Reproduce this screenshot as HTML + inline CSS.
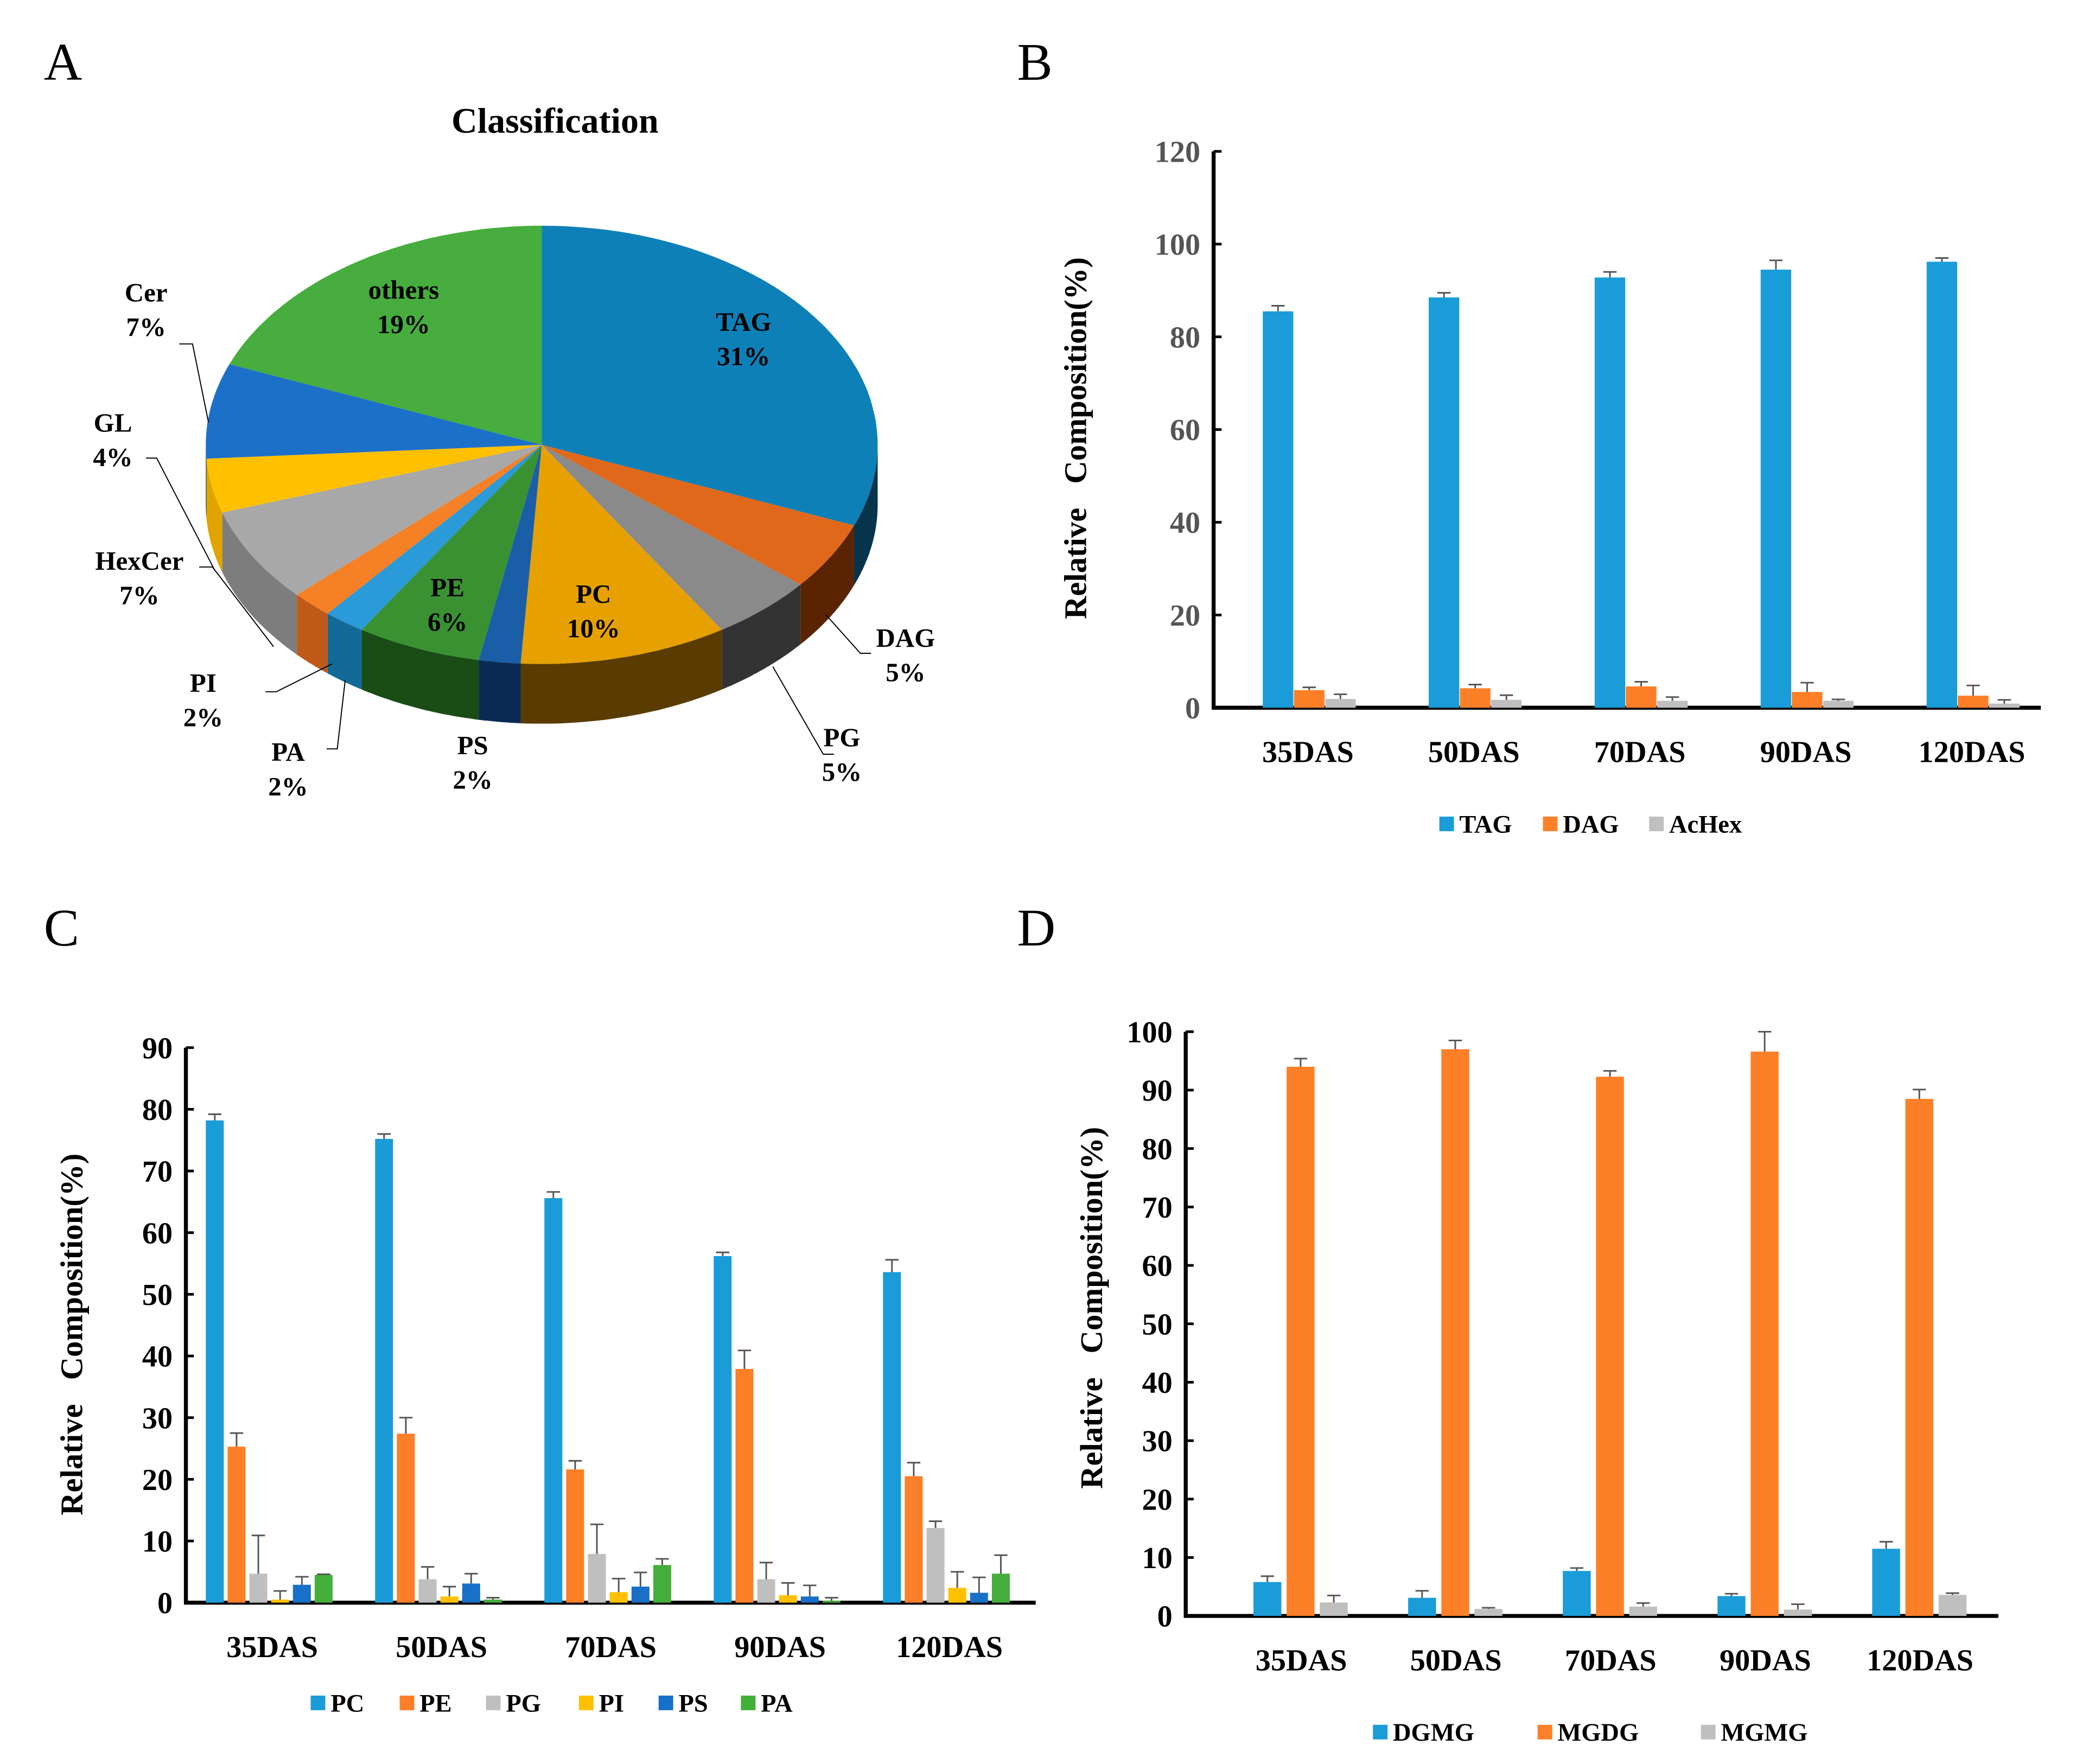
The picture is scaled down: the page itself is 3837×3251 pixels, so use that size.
<!DOCTYPE html>
<html><head><meta charset="utf-8"><style>
html,body{margin:0;padding:0;background:#fff}
svg{display:block;font-family:"Liberation Serif",serif;font-weight:bold}
text{white-space:pre}
</style></head><body>
<svg id="fig" width="3837" height="3251" viewBox="0 0 1568 1328.5" xmlns="http://www.w3.org/2000/svg">
<rect width="1568" height="1329" fill="#fff"/>
<g font-weight="normal" font-size="40" fill="#000">
<text x="33" y="60">A</text>
<text x="766" y="60">B</text>
<text x="33" y="712">C</text>
<text x="766" y="712">D</text>
</g>
<text x="418" y="100" font-size="27" text-anchor="middle">Classification</text>
<g id="pie"></g>
<g id="chartB"></g>
<g id="chartC"></g>
<g id="chartD"></g>
</svg>
<script>
const NS="http://www.w3.org/2000/svg";
const pieLabels=["TAG","DAG","PG","PC","PS","PE","PA","PI","HexCer","GL","Cer","others"];
const pieValues=[31,5,5,10,2,6,2,2,7,4,7,19];
const pieColors=["#0e80b8","#e0681a","#8a8a8a","#e6a100","#1a5ea8","#3a9132","#2a9ad8","#f58025","#a8a8a8","#ffc000","#1c70c8","#46ad3e"];
const pieSide=["#06344d","#5a2400","#333333","#5a3c00","#0a2a55","#1a4d16","#146a96","#c05a18","#7d7d7d","#e0a300","#0f3f78","#2a6e25"];

const catsB=["35DAS","50DAS","70DAS","90DAS","120DAS"];
const tagVals=[85.5,88.5,92.8,94.5,96.2];
const tagErr=[1.2,1.0,1.2,2.0,0.8];
const dagVals=[3.8,4.2,4.6,3.4,2.6];
const dagErr=[0.6,0.8,1.0,2.0,2.2];
const achexVals=[1.9,1.7,1.5,1.5,0.9];
const achexErr=[1.0,1.0,0.8,0.3,0.8];
const ticksB=[0,20,40,60,80,100,120];

const catsC=["35DAS","50DAS","70DAS","90DAS","120DAS"];
const pcVals=[78.2,75.2,65.6,56.2,53.6];
const pcErr=[1.0,0.8,1.0,0.6,2.0];
const peVals=[25.3,27.4,21.6,37.9,20.5];
const peErr=[2.2,2.6,1.4,3.0,2.2];
const pgVals=[4.7,3.8,7.9,3.8,12.1];
const pgErr=[6.2,2.0,4.8,2.7,1.1];
const piVals=[0.5,1.0,1.7,1.2,2.4];
const piErr=[1.4,1.6,2.2,2.0,2.6];
const psVals=[2.9,3.1,2.6,1.0,1.6];
const psErr=[1.3,1.6,2.3,1.8,2.5];
const paVals=[4.5,0.5,6.1,0.3,4.7];
const paErr=[0.1,0.3,1.0,0.5,3.0];
const ticksC=[0,10,20,30,40,50,60,70,80,90];

const catsD=["35DAS","50DAS","70DAS","90DAS","120DAS"];
const dgmgVals=[5.8,3.1,7.7,3.4,11.5];
const dgmgErr=[1.0,1.2,0.5,0.4,1.2];
const mgdgVals=[94.0,97.0,92.3,96.6,88.5];
const mgdgErr=[1.4,1.5,1.0,3.4,1.6];
const mgmgVals=[2.3,1.2,1.6,1.1,3.6];
const mgmgErr=[1.2,0.2,0.6,0.9,0.3];
const ticksD=[0,10,20,30,40,50,60,70,80,90,100];

function mk(parent,tag,attrs,txt){const e=document.createElementNS(NS,tag);for(const k in attrs)e.setAttribute(k,attrs[k]);if(txt!==undefined)e.textContent=txt;parent.appendChild(e);return e;}

// ---- Pie ----
(function(){
 const g=document.getElementById('pie');
 const cx=408,cy=335,rx=253,ry=165,d=45;
 const P=(a,off)=>[cx+rx*Math.sin(a),cy-ry*Math.cos(a)+(off||0)];
 const total=pieValues.reduce((a,b)=>a+b,0);
 let angs=[0];pieValues.forEach(v=>angs.push(angs[angs.length-1]+v/total*2*Math.PI));
 for(let i=0;i<pieValues.length;i++){
  let a=Math.max(angs[i],Math.PI/2),b=Math.min(angs[i+1],1.5*Math.PI);
  if(b<=a)continue;
  let pts=[];const n=30;
  for(let k=0;k<=n;k++)pts.push(P(a+(b-a)*k/n));
  for(let k=n;k>=0;k--)pts.push(P(a+(b-a)*k/n,d));
  const s=mk(g,'path',{d:'M'+pts.map(p=>p[0].toFixed(1)+','+p[1].toFixed(1)).join('L')+'Z',fill:pieSide[i]});
  
  
 }
 for(let i=0;i<pieValues.length;i++){
  const a=angs[i],b=angs[i+1];let pts=[];const n=60;
  for(let k=0;k<=n;k++)pts.push(P(a+(b-a)*k/n));
  const s=mk(g,'path',{d:'M'+cx+','+cy+'L'+pts.map(p=>p[0].toFixed(1)+','+p[1].toFixed(1)).join('L')+'Z',fill:pieColors[i]});
  
  
 }
 const lab=[["TAG",560,249],["others",304,225],["PC",447,454],["PE",337,449],["DAG",682,487],["PG",634,562],["PS",356,568],["PA",217,573],["PI",153,521],["HexCer",105,429],["GL",85,325],["Cer",110,227]];
 lab.forEach(l=>{
  const i=pieLabels.indexOf(l[0]);
  const t=mk(g,'text',{x:l[1],y:l[2],'font-size':20,'text-anchor':'middle'});
  
  
  mk(t,'tspan',{x:l[1]},l[0]);
  mk(t,'tspan',{x:l[1],dy:26},pieValues[i]+'%');
 });
 const lines=["M622,463 L648,492 L656,492","M582,502 L620,568 L628,568","M250,500 L208,521 L200,521","M260,512 L254,564 L246,564","M206,487 L160,427 L150,427","M162,430 L118,345 L110,345","M157,318 L145,259 L135,259"];
 lines.forEach((p,k)=>{const e=mk(g,'path',{d:p,fill:'none',stroke:'#000','stroke-width':0.8});
  
  });
})();

function barChart(opt){
 const g=document.getElementById(opt.id);
 const y=v=>opt.y0-(v/opt.vmax)*(opt.y0-opt.ytop);
 const ax=mk(g,'path',{d:`M${opt.x0},${opt.ytop}L${opt.x0},${opt.y0}L${opt.x1},${opt.y0}`,fill:'none',stroke:'#000','stroke-width':3});
 
 
 opt.ticks.forEach(t=>{
  mk(g,'line',{x1:opt.x0,x2:opt.x0+6,y1:y(t),y2:y(t),stroke:'#000','stroke-width':2});
  const tx=mk(g,'text',{x:opt.x0-10,y:y(t)+8,'font-size':23,'text-anchor':'end',fill:opt.tickColor},t);
  
  
 });
 const yt=mk(g,'text',{transform:`translate(${opt.titleX},${opt.titleY}) rotate(-90)`,'font-size':24,'text-anchor':'middle'},'Relative   Composition(%)');
 
 
 opt.cats.forEach((c,i)=>{
  const cxg=opt.gx0+i*opt.gstep;
  const xl=mk(g,'text',{x:cxg,y:opt.y0+41,'font-size':23,'text-anchor':'middle'},c);
  
  
  opt.series.forEach((s,j)=>{
   const bx=cxg-opt.half+j*opt.slot;
   const r=mk(g,'rect',{x:bx,y:y(s.v[i]),width:opt.bw,height:opt.y0-y(s.v[i]),fill:s.c});
   
   
   const mx=bx+opt.bw/2,ye=y(s.v[i]+s.e[i]);
   const eb=mk(g,'path',{d:`M${mx},${y(s.v[i])}L${mx},${ye}M${mx-5},${ye}L${mx+5},${ye}`,stroke:'#555','stroke-width':1.2,fill:'none'});
   
   
  });
 });
 opt.series.forEach((s,j)=>{
  const lx=opt.legX[j];
  const sq=mk(g,'rect',{x:lx,y:opt.legY-12,width:11,height:11,fill:s.c});
  
  
  const lt=mk(g,'text',{x:lx+15,y:opt.legY,'font-size':19},s.n);
  
  
 });
}
barChart({id:'chartB',x0:914,x1:1537,ytop:114,y0:533,vmax:120,ticks:ticksB,tickColor:'#555',titleX:818,titleY:330,
 cats:catsB,gx0:985,gstep:125,half:34,slot:23.5,bw:23,
 series:[{n:'TAG',v:tagVals,e:tagErr,c:'#1a9cd8'},{n:'DAG',v:dagVals,e:dagErr,c:'#fd7f27'},{n:'AcHex',v:achexVals,e:achexErr,c:'#bfbfbf'}],
 legX:[1084,1162,1242],legY:627});
barChart({id:'chartC',x0:140,x1:780,ytop:789,y0:1207,vmax:90,ticks:ticksC,tickColor:'#000',titleX:62,titleY:1005,
 cats:catsC,gx0:205,gstep:127.5,half:50,slot:16.4,bw:13.5,
 series:[{n:'PC',v:pcVals,e:pcErr,c:'#1a9cd8'},{n:'PE',v:peVals,e:peErr,c:'#fd7f27'},{n:'PG',v:pgVals,e:pgErr,c:'#bfbfbf'},{n:'PI',v:piVals,e:piErr,c:'#ffc000'},{n:'PS',v:psVals,e:psErr,c:'#1870c8'},{n:'PA',v:paVals,e:paErr,c:'#44ae3a'}],
 legX:[234,301,366,436,496,558],legY:1289});
barChart({id:'chartD',x0:893,x1:1505,ytop:777,y0:1217,vmax:100,ticks:ticksD,tickColor:'#000',titleX:830,titleY:985,
 cats:catsD,gx0:980,gstep:116.5,half:36,slot:25,bw:21,
 series:[{n:'DGMG',v:dgmgVals,e:dgmgErr,c:'#1a9cd8'},{n:'MGDG',v:mgdgVals,e:mgdgErr,c:'#fd7f27'},{n:'MGMG',v:mgmgVals,e:mgmgErr,c:'#bfbfbf'}],
 legX:[1034,1158,1281],legY:1311});
</script>
</body></html>
